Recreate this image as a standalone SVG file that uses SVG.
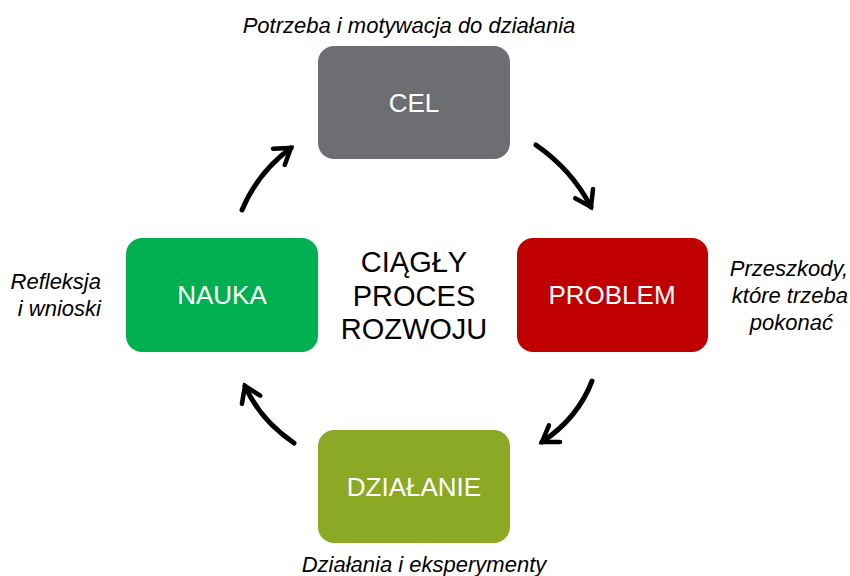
<svg xmlns="http://www.w3.org/2000/svg" width="850" height="576" viewBox="0 0 850 576">
  <style>
    .box-label { font-family: "Liberation Sans", Arial, sans-serif; font-size: 26px; fill: #ffffff; text-anchor: middle; }
    .note { font-family: "Liberation Sans", Arial, sans-serif; font-size: 22px; font-style: italic; fill: #000000; }
    .center { font-family: "Liberation Sans", Arial, sans-serif; font-size: 29px; fill: #000000; text-anchor: middle; }
    .arc { fill: none; stroke: #000000; stroke-width: 5; stroke-linecap: round; }
  </style>
  <defs>
    <marker id="head" viewBox="0 0 10 10" refX="7" refY="5" markerWidth="5" markerHeight="5" markerUnits="strokeWidth" orient="auto">
      <path d="M1,1 L7,5 L1,9" fill="none" stroke="#000000" stroke-width="1.8" stroke-linecap="round" stroke-linejoin="miter"/>
    </marker>
  </defs>
  <rect width="850" height="576" fill="#ffffff"/>

  <g id="cel">
    <rect x="318" y="46" width="192" height="113" rx="16" fill="#6d6e71"/>
    <text class="box-label" x="414" y="112">CEL</text>
  </g>
  <g id="problem">
    <rect x="517" y="238" width="191" height="114" rx="16" fill="#c00000"/>
    <text class="box-label" x="612" y="304">PROBLEM</text>
  </g>
  <g id="dzialanie">
    <rect x="318" y="430" width="192" height="113" rx="16" fill="#8ca926"/>
    <text class="box-label" x="414" y="496">DZIAŁANIE</text>
  </g>
  <g id="nauka">
    <rect x="126" y="238" width="192" height="114" rx="16" fill="#00b050"/>
    <text class="box-label" x="222" y="304">NAUKA</text>
  </g>

  <g id="center-label">
    <text class="center" x="414" y="272">CIĄGŁY</text>
    <text class="center" x="414" y="306">PROCES</text>
    <text class="center" x="414" y="339">ROZWOJU</text>
  </g>

  <g id="notes">
    <text class="note" x="409" y="33" text-anchor="middle">Potrzeba i motywacja do działania</text>
    <text class="note" x="848" y="276" text-anchor="end">Przeszkody,</text>
    <text class="note" x="848" y="303" text-anchor="end">które trzeba</text>
    <text class="note" x="833" y="330" text-anchor="end">pokonać</text>
    <text class="note" x="101" y="289" text-anchor="end">Refleksja</text>
    <text class="note" x="101" y="316" text-anchor="end">i wnioski</text>
    <text class="note" x="424" y="572" text-anchor="middle">Działania i eksperymenty</text>
  </g>

  <g id="connectors">
    <path class="arc" d="M536,145 Q572,170 591,207" marker-end="url(#head)"/>
    <path class="arc" d="M592,381 Q578,418 542,442" marker-end="url(#head)"/>
    <path class="arc" d="M294,443 Q260,420 245,386" marker-end="url(#head)"/>
    <path class="arc" d="M242,210 Q258,172 291,148" marker-end="url(#head)"/>
  </g>
</svg>
